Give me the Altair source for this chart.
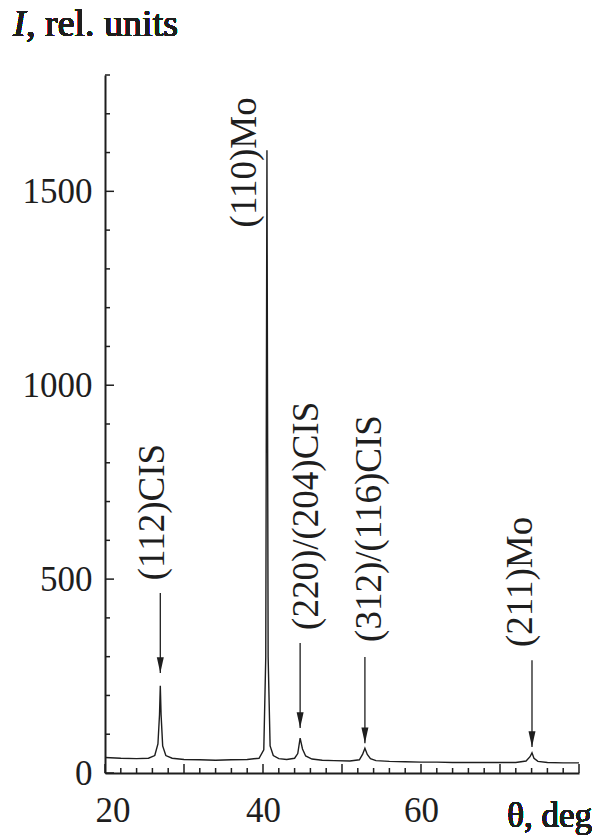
import altair as alt
import pandas as pd

# ---- spectrum ----
theta = [20.0, 22.0, 24.0, 25.5, 26.3, 26.7, 26.9, 27.0, 27.1, 27.3, 27.7, 28.5, 30.0, 32.0,
         34.0, 36.0, 38.0, 39.5, 40.1, 40.35, 40.5, 40.65, 40.9, 41.3, 42.0, 43.0, 44.0,
         44.4, 44.7, 45.0, 45.4, 46.2, 47.5, 49.0, 51.0, 52.2, 52.6, 52.9, 53.2, 53.6, 54.3,
         56.0, 58.0, 60.0, 62.0, 64.0, 66.0, 68.0, 70.0, 72.0, 73.3, 73.8, 74.05, 74.3, 74.8,
         76.0, 78.0, 80.0]
intensity = [40, 38, 37, 38, 45, 75, 150, 225, 150, 70, 45, 38, 35, 34,
             33, 34, 35, 38, 60, 300, 1606, 300, 70, 45, 37, 35, 38,
             50, 90, 62, 44, 36, 33, 32, 31, 34, 48, 64, 48, 37, 32,
             30, 29, 28, 28, 27, 27, 27, 27, 27, 31, 42, 52, 38, 30,
             27, 26, 26]

# ---- peak annotations ----
label_text = ["(112)CIS", "(110)Mo", "(220)/(204)CIS", "(312)/(116)CIS", "(211)Mo"]
label_theta = [26.1, 37.7, 45.6, 53.6, 72.6]
label_start = [497, 1407, 369, 338, 325]

arrow_theta = [27.0, 44.7, 52.9, 74.05]
arrow_top = [464, 335, 299, 291]
arrow_tip = [258, 116, 77, 67]

# ---- axes ----
x_major = [20, 30, 40, 50, 60, 70, 80]
x_minor = [v for v in range(22, 81, 2) if v % 10 != 0]
x_labels = [20, 40, 60]
y_major = [0, 500, 1000, 1500]
y_minor = [v for v in range(100, 1801, 100) if v % 500 != 0]

FONT = "Liberation Serif"
INK = "#1e1e1e"
W, H = 474, 698

spec = pd.DataFrame({"theta": theta, "I": intensity})
labels = pd.DataFrame({"theta": label_theta, "I": label_start, "text": label_text})
arrows = pd.DataFrame({"theta": arrow_theta, "I": arrow_top, "tip": arrow_tip})

xs = alt.Scale(domain=[20, 80], nice=False, zero=False)
ys = alt.Scale(domain=[0, 1800], nice=False)

main_line = alt.Chart(spec).mark_line(color=INK, strokeWidth=1.4).encode(
    x=alt.X("theta:Q", scale=xs, title=None,
            axis=alt.Axis(values=x_labels, title=None, grid=False, ticks=False,
                          format="d", labelFlush=True, labelFlushOffset=10,
                          labelFont=FONT, labelFontSize=35, labelColor=INK,
                          labelPadding=20, domainColor=INK, domainWidth=2)),
    y=alt.Y("I:Q", scale=ys, title=None,
            axis=alt.Axis(values=y_major, title=None, grid=False, ticks=False,
                          format="d",
                          labelFont=FONT, labelFontSize=35, labelColor=INK,
                          labelPadding=13, domainColor=INK, domainWidth=2)),
)


def xtick_layer(vals, length):
    return alt.Chart(pd.DataFrame({"theta": vals})).mark_rule(
        color=INK, strokeWidth=1.5
    ).encode(x=alt.X("theta:Q", scale=xs, title=None),
             y=alt.value(H), y2=alt.value(H - length))


def ytick_layer(vals, length):
    return alt.Chart(pd.DataFrame({"I": vals})).mark_rule(
        color=INK, strokeWidth=1.5
    ).encode(y=alt.Y("I:Q", scale=ys, title=None),
             x=alt.value(0), x2=alt.value(length))


label_layer = alt.Chart(labels).mark_text(
    angle=270, align="left", baseline="middle", font=FONT, fontSize=37, color=INK
).encode(x=alt.X("theta:Q", scale=xs, title=None),
         y=alt.Y("I:Q", scale=ys, title=None), text="text:N")

arrow_shaft = alt.Chart(arrows).mark_rule(color=INK, strokeWidth=1.3).encode(
    x=alt.X("theta:Q", scale=xs, title=None),
    y=alt.Y("I:Q", scale=ys, title=None), y2="tip:Q"
)
arrow_head = alt.Chart(arrows).mark_point(
    shape="M-1,-4.5L1,-4.5L0,0Z", filled=True, color=INK, opacity=1, size=49, strokeWidth=0
).encode(x=alt.X("theta:Q", scale=xs, title=None),
         y=alt.Y("tip:Q", scale=ys, title=None))

title_i = alt.Chart(spec).mark_text(
    text="I", font=FONT, fontSize=38, fontStyle="italic", color=INK,
    align="left", baseline="alphabetic"
).encode(x=alt.value(-92), y=alt.value(-39))
title_rest = alt.Chart(spec).mark_text(
    text=", rel. units", font=FONT, fontSize=38, color=INK,
    align="left", baseline="alphabetic"
).encode(x=alt.value(-79), y=alt.value(-39))
x_title = alt.Chart(spec).mark_text(
    text="θ, deg", font=FONT, fontSize=35, color=INK,
    align="right", baseline="alphabetic"
).encode(x=alt.value(487), y=alt.value(752))

chart = alt.layer(
    main_line,
    xtick_layer(x_minor, 5), xtick_layer(x_major, 9),
    ytick_layer(y_minor, 5), ytick_layer(y_major, 9),
    arrow_shaft, arrow_head, label_layer, title_i, title_rest, x_title
).properties(
    width=W, height=H,
    autosize=alt.AutoSizeParams(type="none"),
    padding={"left": 105, "top": 75, "right": 16, "bottom": 62},
    background="white",
).configure_view(stroke=None)

chart.save("out.html", embed_options={"renderer": "svg", "actions": False})
